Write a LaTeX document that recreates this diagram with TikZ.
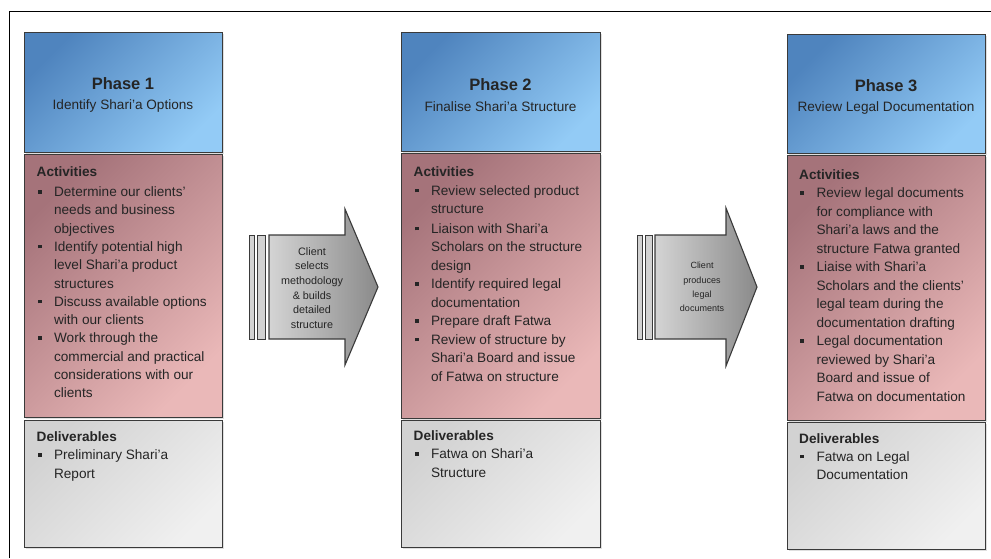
\documentclass[tikz,border=0pt]{standalone}
\usepackage{fontspec}
\setmainfont{Liberation Sans}
\usepackage{array}
\usetikzlibrary{shadows}

\definecolor{bluedark}{HTML}{4F84BE}
\definecolor{bluelight}{HTML}{93CBF6}
\definecolor{pinkdark}{HTML}{A5737A}
\definecolor{pinklight}{HTML}{EAB8B8}
\definecolor{greydark}{HTML}{D2D2D2}
\definecolor{greylight}{HTML}{F0F0F0}
\definecolor{edge}{HTML}{3A3A3A}
\definecolor{ink}{HTML}{252525}
\definecolor{arrowlight}{HTML}{D4D4D4}
\definecolor{arrowdark}{HTML}{8A8A8A}

% small square bullet used in the lists
\newcommand{\sqbullet}{\rule[3pt]{3.8pt}{3.8pt}}
% list environment: bullet column + text column
\newenvironment{itemlist}{\begin{tabular}{@{}>{\hspace{1.1pt}}p{17.4pt}@{}l@{}}}{\end{tabular}}

\begin{document}
\begin{tikzpicture}[x=1pt,y=-1pt,
  panel/.style={draw=edge, line width=1.3pt, inner sep=0pt, anchor=north west,
    drop shadow={shadow xshift=1.5pt, shadow yshift=-1.5pt, opacity=.25}},
  phasebox/.style={panel, top color=bluedark, bottom color=bluelight, shading angle=45},
  actbox/.style={panel, top color=pinkdark, bottom color=pinklight, shading angle=45},
  delbox/.style={panel, top color=greydark, bottom color=greylight, shading angle=45},
  titletext/.style={align=center, text=ink, inner sep=0pt, font=\fontsize{13.6}{20.5}\selectfont},
  listtext/.style={anchor=north west, inner sep=0pt, text=ink, font=\fontsize{13.6}{18.3}\selectfont},
  bar/.style={draw=edge, line width=1pt, fill=greydark},
  bigarrow/.style={draw=edge, line width=1.1pt, left color=arrowlight, right color=arrowdark},
  arrowtext/.style={align=center, text=ink, inner sep=0pt}
]
\useasboundingbox (0,0) rectangle (991,558);

% outer frame
\draw[line width=1pt, black] (9,558) -- (9,11) -- (991,11);

% ---------------- Phase 1 ----------------
\node[phasebox, minimum width=198pt, minimum height=120pt] (p1) at (24,32) {};
\node[actbox, minimum width=198pt, minimum height=263pt] (a1) at (24,154) {};
\node[delbox, minimum width=198pt, minimum height=127pt] (d1) at (24,420) {};
\node[titletext] (p1t) at (123,95) {{\bfseries\fontsize{16.5}{20.5}\selectfont Phase 1}\\Identify Shari'a Options};
\node[listtext] (a1t) at (36.5,163.7) {\begin{itemlist}
\multicolumn{2}{@{}l}{\bfseries Activities}\\[1.5pt]
\sqbullet & Determine our clients'\\
 & needs and business\\
 & objectives\\
\sqbullet & Identify potential high\\
 & level Shari'a product\\
 & structures\\
\sqbullet & Discuss available options\\
 & with our clients\\
\sqbullet & Work through the\\
 & commercial and practical\\
 & considerations with our\\
 & clients
\end{itemlist}};
\node[listtext] (d1t) at (36.5,428.5) {\begin{itemlist}
\multicolumn{2}{@{}l}{\bfseries Deliverables}\\
\sqbullet & Preliminary Shari'a\\
 & Report
\end{itemlist}};

% ---------------- Phase 2 ----------------
\node[phasebox, minimum width=199pt, minimum height=119pt] (p2) at (401,32) {};
\node[actbox, minimum width=199pt, minimum height=265pt] (a2) at (401,153) {};
\node[delbox, minimum width=199pt, minimum height=127pt] (d2) at (401,420) {};
\node[titletext] (p2t) at (500.5,95) {{\bfseries\fontsize{16.5}{20.5}\selectfont Phase 2}\\Finalise Shari'a Structure};
\node[listtext, font=\fontsize{13.6}{18.5}\selectfont] (a2t) at (413.5,163.7) {\begin{itemlist}
\multicolumn{2}{@{}l}{\bfseries Activities}\\
\sqbullet & Review selected product\\
 & structure\\[1pt]
\sqbullet & Liaison with Shari'a\\
 & Scholars on the structure\\
 & design\\
\sqbullet & Identify required legal\\
 & documentation\\
\sqbullet & Prepare draft Fatwa\\
\sqbullet & Review of structure by\\
 & Shari'a Board and issue\\
 & of Fatwa on structure
\end{itemlist}};
\node[listtext] (d2t) at (413.5,427.5) {\begin{itemlist}
\multicolumn{2}{@{}l}{\bfseries Deliverables}\\
\sqbullet & Fatwa on Shari'a\\
 & Structure
\end{itemlist}};

% ---------------- Phase 3 ----------------
\node[phasebox, minimum width=198pt, minimum height=119pt] (p3) at (787,34) {};
\node[actbox, minimum width=198pt, minimum height=265pt] (a3) at (787,155) {};
\node[delbox, minimum width=198pt, minimum height=127pt] (d3) at (787,422) {};
\node[titletext] (p3t) at (886,97) {{\bfseries\fontsize{16.5}{20.5}\selectfont Phase 3}\\Review Legal Documentation};
\node[listtext, font=\fontsize{13.6}{18.5}\selectfont] (a3t) at (799,166) {\begin{itemlist}
\multicolumn{2}{@{}l}{\bfseries Activities}\\
\sqbullet & Review legal documents\\
 & for compliance with\\
 & Shari'a laws and the\\
 & structure Fatwa granted\\
\sqbullet & Liaise with Shari'a\\
 & Scholars and the clients'\\
 & legal team during the\\
 & documentation drafting\\
\sqbullet & Legal documentation\\
 & reviewed by Shari'a\\
 & Board and issue of\\
 & Fatwa on documentation
\end{itemlist}};
\node[listtext] (d3t) at (799,430) {\begin{itemlist}
\multicolumn{2}{@{}l}{\bfseries Deliverables}\\
\sqbullet & Fatwa on Legal\\
 & Documentation
\end{itemlist}};

% ---------------- Transition arrow 1 ----------------
\draw[bar] (249,235) rectangle (254,339);
\draw[bar] (257,235) rectangle (265,339);
\draw[bigarrow] (269,235) -- (345,235) -- (345,209) -- (378,287) -- (345,365)
  -- (345,339) -- (269,339) -- cycle;
\node[arrowtext, font=\fontsize{10.8}{14.6}\selectfont] (t1) at (312,288)
  {Client\\selects\\methodology\\\& builds\\detailed\\structure};

% ---------------- Transition arrow 2 ----------------
\draw[bar] (637,235) rectangle (642,339);
\draw[bar] (645,235) rectangle (652,339);
\draw[bigarrow] (655,235) -- (726,235) -- (726,208) -- (757,287) -- (726,366)
  -- (726,339) -- (655,339) -- cycle;
\node[arrowtext, font=\fontsize{9}{14.3}\selectfont] (t2) at (702,287)
  {Client\\produces\\legal\\documents};
\end{tikzpicture}
\end{document}
